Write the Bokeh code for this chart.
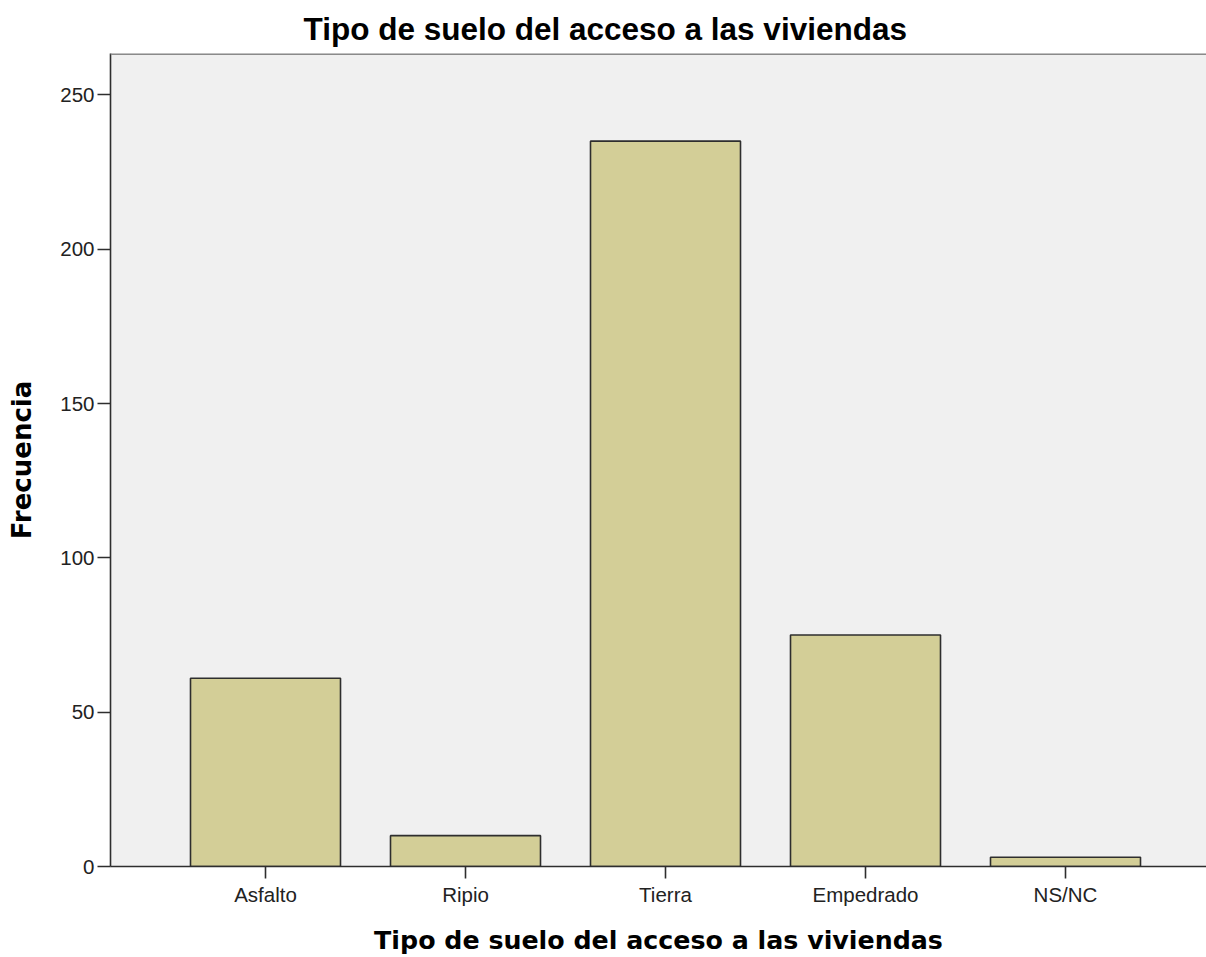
from bokeh.plotting import figure
from bokeh.models import Range1d, FixedTicker, Span, ColumnDataSource
from bokeh.embed import file_html
from bokeh.resources import INLINE

categories = ["Asfalto", "Ripio", "Tierra", "Empedrado", "NS/NC"]
frecuencia = [61, 10, 235, 75, 3]
y_ticks = [0, 50, 100, 150, 200, 250]

TITLE = "Tipo de suelo del acceso a las viviendas"
Y_END = 263.4

src = ColumnDataSource(dict(x=list(range(len(categories))), top=frecuencia))

p = figure(width=1206, height=957,
           x_range=Range1d(-0.775, 4.705), y_range=Range1d(0, Y_END),
           output_backend="svg", toolbar_location=None,
           min_border_left=110, min_border_right=0,
           min_border_top=53, min_border_bottom=91,
           background_fill_color="#ffffff", border_fill_color="#ffffff")

p.vbar(x="x", top="top", width=0.75, bottom=0, source=src,
       fill_color="#D3CE97", line_color="#2e2e2e", line_width=1.6)

p.background_fill_color = "#F0F0F0"
p.outline_line_color = None
p.grid.grid_line_color = None

p.add_layout(Span(location=Y_END, dimension="width", line_color="#8a8a8a", line_width=3))

p.title.text = TITLE
p.title.text_font = "Liberation Sans"
p.title.text_font_size = "31.5px"
p.title.text_font_style = "bold"
p.title.text_color = "#000000"
p.title.align = "left"
p.title.offset = 193
p.title.standoff = 14

xa = p.xaxis[0]
xa.ticker = FixedTicker(ticks=list(range(len(categories))))
xa.major_label_overrides = {i: c for i, c in enumerate(categories)}
xa.axis_label = TITLE
ya = p.yaxis[0]
ya.ticker = FixedTicker(ticks=y_ticks)
ya.axis_label = "Frecuencia"

for ax in (xa, ya):
    ax.axis_line_color = "#2e2e2e"
    ax.axis_line_width = 1.6
    ax.major_tick_line_color = "#2e2e2e"
    ax.major_tick_line_width = 1.6
    ax.major_tick_in = 0
    ax.minor_tick_line_color = None
    ax.major_label_text_font = "Liberation Sans"
    ax.major_label_text_font_size = "20.5px"
    ax.major_label_text_color = "#222222"
    ax.axis_label_text_font = "DejaVu Sans"
    ax.axis_label_text_font_style = "bold"
    ax.axis_label_text_color = "#000000"

xa.axis_label_text_font_size = "25.3px"
ya.axis_label_text_font_size = "26px"
xa.major_tick_out = 12
xa.major_label_standoff = 4
xa.axis_label_standoff = 17
ya.major_tick_out = 13
ya.major_label_standoff = 3
ya.axis_label_standoff = 20

open("out.html", "w").write(file_html(p, INLINE))
